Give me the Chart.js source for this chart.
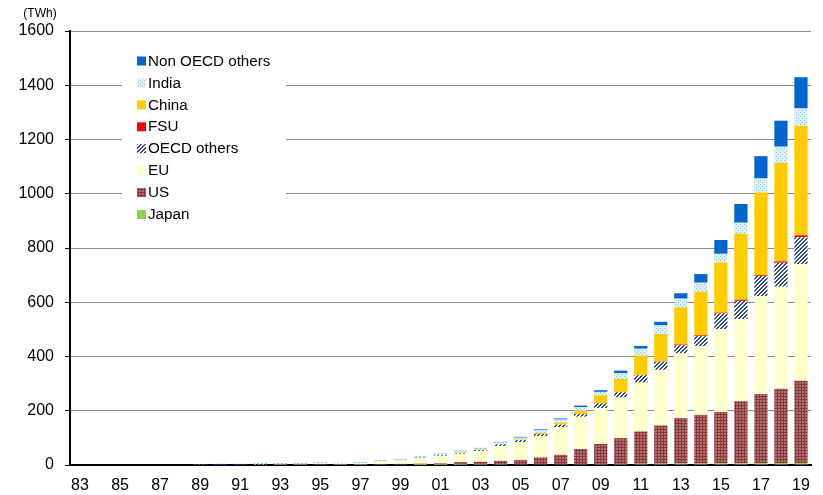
<!DOCTYPE html>
<html>
<head>
<meta charset="utf-8">
<script src="https://cdn.jsdelivr.net/npm/chart.js@4.4.1/dist/chart.umd.min.js"></script>
<style>
  html, body { margin: 0; padding: 0; background: #fff; }
  #wrap { width: 823px; height: 495px; position: relative; }
</style>
</head>
<body>
<div id="wrap"><canvas id="c" width="823" height="495"></canvas></div>
<script>
// Wind power generation by region, TWh
const years = ['83','84','85','86','87','88','89','90','91','92','93','94','95','96','97','98','99',
               '00','01','02','03','04','05','06','07','08','09','10','11','12','13','14','15','16','17','18','19'];

const yTicks = [0, 200, 400, 600, 800, 1000, 1200, 1400, 1600];

const japan      = [0,0,0,0,0,0, 0,0,0,0, 0,0,0,0,0,0,0,
                    0.1,0.3,0.4,0.9,1.3,1.8,2.2,2.6,2.9,3.6,4.0,4.6,4.8,5.2,5.0,5.6,6.2,6.5,7.5,7.7];
const us         = [0,0,0,0,0,0, 0,0,0,0, 2,2,3,2,2,3,4,
                    5,6,10,11,14,17,26,35,56,74,95,119,141,168,180,190,229,255,274,303];
const eu         = [0,0,0,0,0,0, 0,0,0,0, 2,2,3,4,5,10,13,
                    20,26,31,40,55,65,78,102,119,132,150,180,205,238,253,305,303,361,376,430];
const oecdOthers = [0,0,0,0,0,0, 3,0,0,5, 1,1,1,1,1,1,2,
                    2,3,3,4,6,8,8,9,10,18,19,27,30,30,37,58,67,74,88,99];
const fsu        = [0,0,0,0,0,0, 0,0,0,0, 0,0,0,0,0,0,0,
                    0,0,0,0,0,0,0,0,0,0,0,1,1,3,3,3,4,3,5,7];
const china      = [0,0,0,0,0,0, 0,0,0,0, 0,0,0,0,0,0,0,
                    1,1,1,1,1,2,4,8,12,29,49,72,101,137,161,185,243,305,364,404];
const india      = [0,0,0,0,0,0, 0,0,0,3, 1,1,2,2,2,2,2,
                    3,4,5,4,6,7,10,11,13,13,22,25,32,32,33,32,41,52,59,64];
const nonOecd    = [0,0,0,0,0,0, 0,4,4,0, 1,1,1,0,1,1,1,
                    1,1,2,2,2,3,3,4,6,6,9,10,13,20,32,51,69,82,96,115];

const FONT = "'Liberation Sans', Arial, sans-serif";

// Small repeating fills for the textured series
function makePattern(size, paint) {
  const cv = document.createElement('canvas');
  cv.width = size; cv.height = size;
  const g = cv.getContext('2d');
  paint(g, size);
  return g.createPattern(cv, 'repeat');
}
const ctx = document.getElementById('c').getContext('2d');

const usFill = makePattern(3, (g, n) => {
  g.fillStyle = '#b56e6e'; g.fillRect(0, 0, n, n);
  g.fillStyle = '#86393a';
  g.fillRect(0, 0, n, 1); g.fillRect(0, 0, 1, n);
});
const oecdFill = makePattern(4, (g, n) => {
  g.fillStyle = '#ffffff'; g.fillRect(0, 0, n, n);
  g.fillStyle = '#2b4a88';
  for (let x = 0; x < n; x++) for (let y = 0; y < n; y++) {
    const k = (x + y) % 4;
    if (k === 0 || k === 1) g.fillRect(x, y, 1, 1);
  }
});
const indiaFill = makePattern(4, (g, n) => {
  g.fillStyle = '#dcf0f6'; g.fillRect(0, 0, n, n);
  g.fillStyle = '#86c3dc';
  g.fillRect(0, 0, 1, 1); g.fillRect(2, 2, 1, 1);
});

const series = [
  { label: 'Japan',           data: japan,      backgroundColor: '#92d050' },
  { label: 'US',              data: us,         backgroundColor: usFill },
  { label: 'EU',              data: eu,         backgroundColor: '#ffffcc' },
  { label: 'OECD others',     data: oecdOthers, backgroundColor: oecdFill },
  { label: 'FSU',             data: fsu,        backgroundColor: '#ff0000' },
  { label: 'China',           data: china,      backgroundColor: '#ffcc00' },
  { label: 'India',           data: india,      backgroundColor: indiaFill },
  { label: 'Non OECD others', data: nonOecd,    backgroundColor: '#0066cc' }
];

// Legend box inside the plot plus the unit caption
const overlay = {
  id: 'overlay',
  afterDraw(chart) {
    const c = chart.ctx;
    c.save();
    c.fillStyle = '#ffffff';
    c.fillRect(122, 42, 164, 188);
    const items = chart.data.datasets.slice().reverse();
    c.font = '15.2px ' + FONT;
    c.textBaseline = 'middle';
    c.textAlign = 'left';
    items.forEach((ds, i) => {
      const cy = 61 + i * 21.93;
      c.fillStyle = ds.backgroundColor;
      c.fillRect(137, cy - 4.5, 9, 9);
      c.fillStyle = '#000';
      c.fillText(ds.label, 148, cy + 0.5);
    });
    c.font = '12px ' + FONT;
    c.textAlign = 'center';
    c.fillStyle = '#000';
    c.fillText('(TWh)', 40, 14);
    c.restore();
  }
};

new Chart(ctx, {
  type: 'bar',
  data: {
    labels: years,
    datasets: series.map(s => ({
      label: s.label,
      data: s.data,
      backgroundColor: s.backgroundColor,
      borderWidth: 0,
      barPercentage: 0.66,
      categoryPercentage: 1.0
    }))
  },
  options: {
    responsive: false,
    animation: false,
    layout: { padding: { top: 31, right: 12, left: 0, bottom: 0 } },
    plugins: { legend: { display: false }, tooltip: { enabled: false } },
    scales: {
      x: {
        stacked: true,
        grid: { display: false, drawTicks: false },
        border: { color: '#000', width: 2 },
        ticks: {
          autoSkip: false, maxRotation: 0, minRotation: 0,
          color: '#000', font: { family: FONT, size: 16 }, padding: 11,
          callback: (v, i) => (i % 2 === 0 ? years[i] : '')
        },
        afterFit: s => { s.height = 30; }
      },
      y: {
        stacked: true,
        min: yTicks[0], max: yTicks[yTicks.length - 1],
        afterBuildTicks: s => { s.ticks = yTicks.map(v => ({ value: v })); },
        grid: {
          color: c => (c.tick && c.tick.value === 0 ? 'rgba(0,0,0,0)' : '#8c8c8c'),
          tickColor: '#000', tickLength: 5, lineWidth: 1
        },
        border: { color: '#000', width: 2 },
        ticks: {
          color: '#000', font: { family: FONT, size: 16 }, padding: 11,
          callback: v => String(v)
        },
        afterFit: s => { s.width = 70; }
      }
    }
  },
  plugins: [overlay]
});
</script>
</body>
</html>
